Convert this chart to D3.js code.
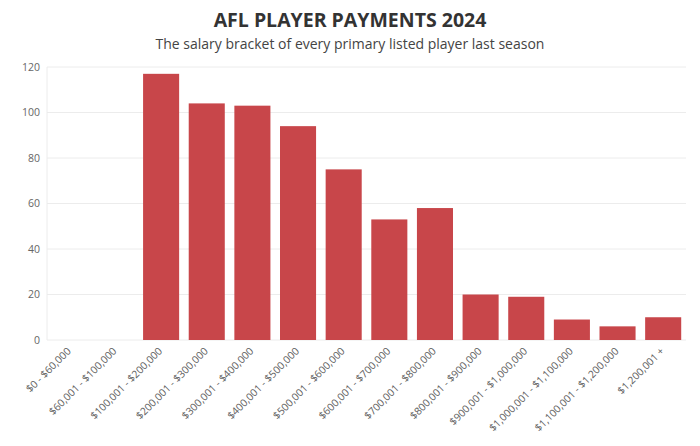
<!DOCTYPE html>
<html><head><meta charset="utf-8">
<script src="https://cdn.jsdelivr.net/npm/d3@7"></script>
<style>body{margin:0;background:#fff;}svg{display:block;}</style>
</head><body><div id="chart"></div>
<script>
const categories = ["$0 - $60,000","$60,001 - $100,000","$100,001 - $200,000","$200,001 - $300,000","$300,001 - $400,000","$400,001 - $500,000","$500,001 - $600,000","$600,001 - $700,000","$700,001 - $800,000","$800,001 - $900,000","$900,001 - $1,000,000","$1,000,001 - $1,100,000","$1,100,001 - $1,200,000","$1,200,001 +"];
const players = [0,0,117,104,103,94,75,53,58,20,19,9,6,10];
const yTicks = [0,20,40,60,80,100,120];
const title = "AFL PLAYER PAYMENTS 2024";
const subtitle = "The salary bracket of every primary listed player last season";

const W = 700, H = 446;
const m = {top:67, right:14, bottom:106, left:47};
const svg = d3.select("#chart").append("svg").attr("width",W).attr("height",H);
const font = "'Open Sans', 'Noto Sans', sans-serif";

svg.append("text").attr("x",350).attr("y",27).attr("text-anchor","middle")
  .attr("font-family",font).attr("font-weight",700).attr("font-size",19.5).attr("fill","#333").text(title);
svg.append("text").attr("x",350).attr("y",49).attr("text-anchor","middle")
  .attr("font-family",font).attr("font-size",14).attr("fill","#444").text(subtitle);

const x = d3.scaleBand().domain(categories).range([m.left, W-m.right]).paddingInner(0.21).paddingOuter(0.105);
const y = d3.scaleLinear().domain([0,120]).range([H-m.bottom, m.top]);

const g = svg.append("g");
g.selectAll("line.grid").data(yTicks).join("line").attr("class","grid")
  .attr("x1",m.left).attr("x2",W-m.right).attr("y1",d=>y(d)).attr("y2",d=>y(d))
  .attr("stroke","#ececec").attr("stroke-width",1);
g.append("line").attr("x1",m.left).attr("x2",m.left).attr("y1",y(0)).attr("y2",y(120))
  .attr("stroke","#ececec");

const ya = svg.append("g").attr("transform",`translate(${m.left},0)`)
  .call(d3.axisLeft(y).tickValues(yTicks).tickSize(0).tickPadding(7));
ya.select(".domain").remove();
ya.selectAll("text").attr("font-family",font).attr("font-size",10.5).attr("fill","#666");

svg.selectAll("rect.bar").data(players).join("rect").attr("class","bar")
  .attr("x",(d,i)=>x(categories[i])).attr("width",x.bandwidth())
  .attr("y",d=>y(d)).attr("height",d=>y(0)-y(d)).attr("fill","#c8464a");

const xa = svg.append("g").attr("transform",`translate(0,${y(0)})`)
  .call(d3.axisBottom(x).tickSize(0).tickPadding(6));
xa.select(".domain").remove();
xa.selectAll("text").attr("font-family",font).attr("font-size",10.3).attr("fill","#5e5e5e")
  .attr("text-anchor","end").attr("dy","0.35em")
  .attr("transform","translate(-5,5) rotate(-45)");
</script></body></html>
